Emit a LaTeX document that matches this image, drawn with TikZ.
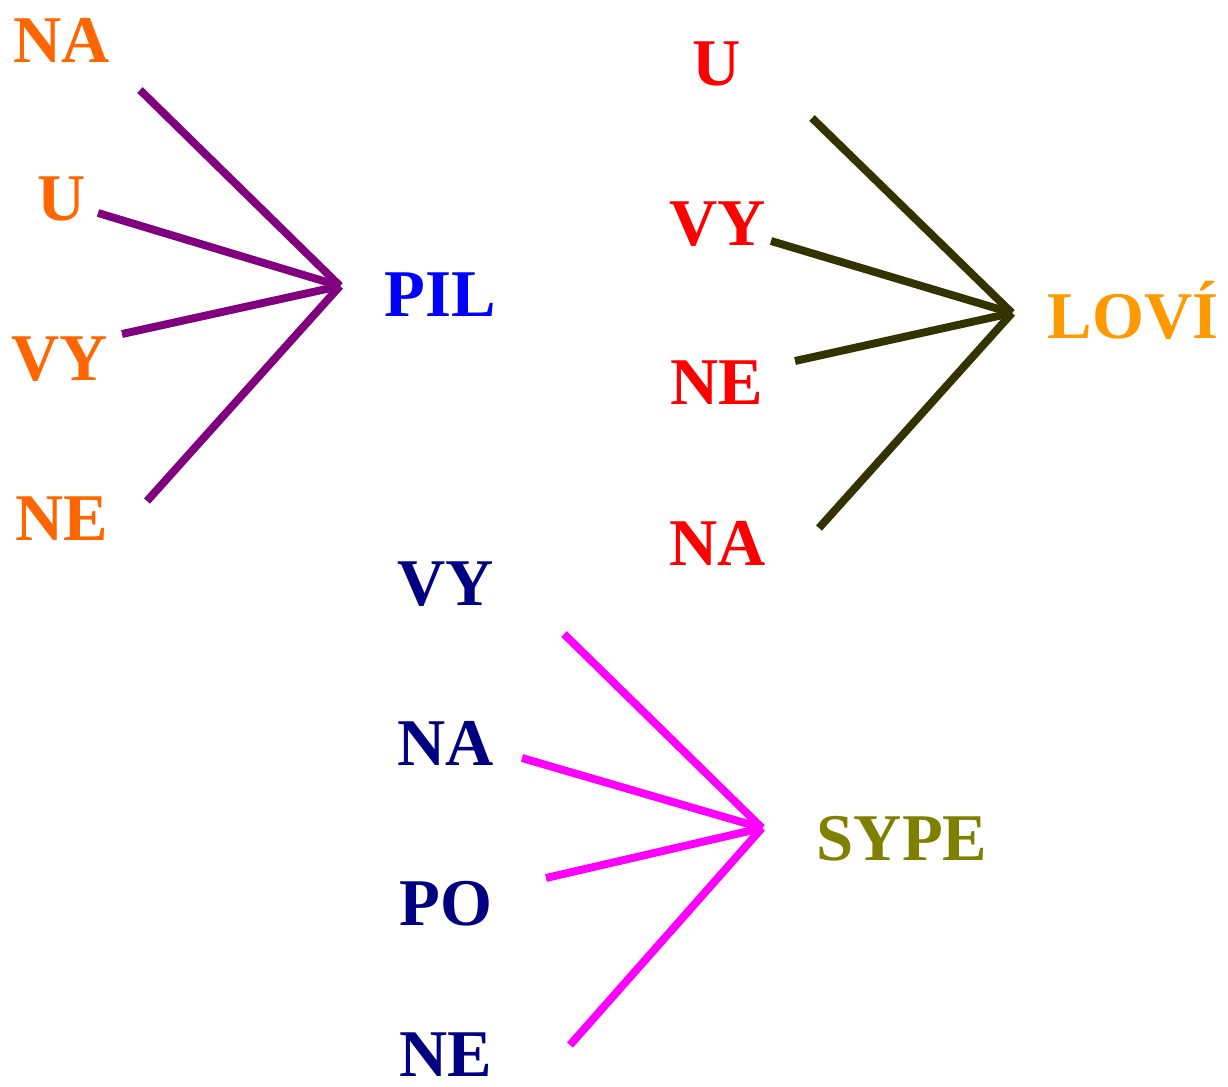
\documentclass[tikz,border=0pt]{standalone}
\usepackage{fontspec}
\setmainfont{Liberation Serif}
\definecolor{orng}{HTML}{FF6600}
\definecolor{purp}{HTML}{800080}
\definecolor{drk}{HTML}{333300}
\definecolor{lorng}{HTML}{FF9900}
\definecolor{navy}{HTML}{000080}
\definecolor{olv}{HTML}{808000}
\definecolor{mgnt}{HTML}{FF00FF}
\tikzset{
  word/.style={inner sep=0pt,anchor=base,font=\fontsize{38}{40}\selectfont\bfseries},
  spoke/.style={line width=4.5pt}
}
\begin{document}
\begin{tikzpicture}[x=0.02cm,y=-0.02cm]
\useasboundingbox (0,0) rectangle (1228,1086);
% first group
\node[word,orng] (na1) at (62,62) {NA};
\node[word,orng] (u1) at (62,220) {U};
\node[word,orng] (vy1) at (60,380) {VY};
\node[word,orng] (ne1) at (62,540) {NE};
\node[word,blue] (pil) at (440,316) {PIL};
\coordinate (h1) at (340,286);
\coordinate (a1) at (140,90);
\coordinate (b1) at (98,213);
\coordinate (c1) at (122,334);
\coordinate (d1) at (147,501);
\draw[spoke,purp] (a1) -- (h1);
\draw[spoke,purp] (b1) -- (h1);
\draw[spoke,purp] (c1) -- (h1);
\draw[spoke,purp] (d1) -- (h1);
% second group
\node[word,red] (u2) at (717,85) {U};
\node[word,red] (vy2) at (718,245) {VY};
\node[word,red] (ne2) at (717,404) {NE};
\node[word,red] (na2) at (718,565) {NA};
\node[word,lorng] (lovi) at (1133,338) {LOVÍ};
\coordinate (h2) at (1012,313);
\coordinate (a2) at (812,118);
\coordinate (b2) at (771,241);
\coordinate (c2) at (795,361);
\coordinate (d2) at (819,528);
\draw[spoke,drk] (a2) -- (h2);
\draw[spoke,drk] (b2) -- (h2);
\draw[spoke,drk] (c2) -- (h2);
\draw[spoke,drk] (d2) -- (h2);
% third group
\node[word,navy] (vy3) at (446,605) {VY};
\node[word,navy] (na3) at (446,765) {NA};
\node[word,navy] (po3) at (446,925) {PO};
\node[word,navy] (ne3) at (446,1076) {NE};
\node[word,olv] (sype) at (902,860) {SYPE};
\coordinate (h3) at (762,828);
\coordinate (a3) at (564,634);
\coordinate (b3) at (522,758);
\coordinate (c3) at (546,878);
\coordinate (d3) at (570,1045);
\draw[spoke,mgnt] (a3) -- (h3);
\draw[spoke,mgnt] (b3) -- (h3);
\draw[spoke,mgnt] (c3) -- (h3);
\draw[spoke,mgnt] (d3) -- (h3);
\end{tikzpicture}
\end{document}
